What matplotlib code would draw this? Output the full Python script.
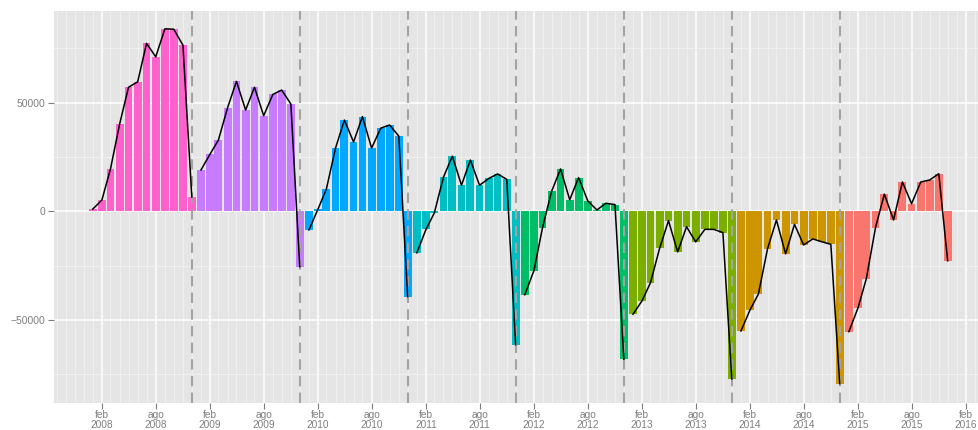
import matplotlib
matplotlib.use("Agg")
import matplotlib.pyplot as plt
import numpy as np
import pandas as pd

# monthly values per year (Jan..Dec)
years = [2008, 2009, 2010, 2011, 2012, 2013, 2014, 2015]
v2008 = [1000, 5200, 19500, 40200, 57100, 59600, 77300, 71100, 84000, 83800, 76500, 6600]
v2009 = [19000, 26400, 32800, 47700, 59800, 46600, 57100, 44000, 53800, 55800, 49400, -25500]
v2010 = [-8600, 1100, 10200, 29100, 42000, 31900, 43600, 29100, 38300, 39700, 34600, -39300]
v2011 = [-19100, -8300, -800, 15700, 25400, 12000, 23600, 12000, 15100, 17200, 14700, -61400]
v2012 = [-38400, -27300, -7500, 9300, 19500, 5300, 15500, 4800, 600, 3700, 3100, -68100]
v2013 = [-47400, -41100, -32900, -17000, -4300, -18700, -7100, -14100, -8300, -8300, -9800, -77200]
v2014 = [-55100, -45300, -38100, -17200, -4000, -19600, -6000, -15500, -12700, -14000, -15200, -79300]
v2015 = [-55400, -44400, -31000, -7500, 7900, -4000, 13500, 3500, 13500, 14400, 17300, -22800]
values = [v2008, v2009, v2010, v2011, v2012, v2013, v2014, v2015]

colors = ['#FF61CC', '#C77CFF', '#00A9FF', '#00BFC4',
          '#00BE67', '#7CAE00', '#CD9600', '#F8766D']

month_abbr = ['ene', 'feb', 'mar', 'abr', 'may', 'jun',
              'jul', 'ago', 'sep', 'oct', 'nov', 'dic']

grey_txt = '#7F7F7F'

fig = plt.figure(figsize=(9.79, 4.30), dpi=100)
ax = fig.add_axes([54 / 979, (430 - 402.7) / 430, 925 / 979, (402.7 - 11) / 430])
ax.set_facecolor('#E5E5E5')
for s in ax.spines.values():
    s.set_visible(False)

# bars and line per year
for yr, vals, col in zip(years, values, colors):
    dates = pd.date_range(f'{yr}-01-01', periods=12, freq='MS')
    ax.bar(dates, vals, width=26.5, color=col, zorder=2, linewidth=0)
    ax.plot(dates, vals, color='black', lw=1.1, zorder=4)

# year separators
for yr in years[:-1]:
    ax.axvline(pd.Timestamp(f'{yr}-12-01'), color='#A3A3A3', lw=1.5,
               ls=(0, (5, 3)), zorder=3)

ax.set_xlim(pd.Timestamp('2007-08-23'), pd.Timestamp('2016-03-16'))
ax.set_ylim(-88100, 92200)

# x ticks
major = pd.date_range('2008-02-01', '2016-02-01', freq='6MS')
ax.set_xticks(major)
ax.set_xticklabels([f'{month_abbr[d.month - 1]}\n{d.year}' for d in major],
                   fontsize=7.3, color=grey_txt, family='Liberation Sans',
                   linespacing=0.95)
minor = pd.date_range('2007-09-01', '2016-03-01', freq='MS')
ax.set_xticks([d for d in minor if d not in set(major)], minor=True)

ax.set_yticks([-50000, 0, 50000])
ax.set_yticklabels(['\u221250000', '0', '50000'], fontsize=7.5,
                   color=grey_txt, family='Liberation Sans')
ax.set_yticks([-75000, -25000, 25000, 75000], minor=True)

ax.tick_params(axis='both', which='major', length=4, width=0.8,
               color=grey_txt, pad=2.5)
ax.tick_params(axis='x', which='major', pad=1.5)
ax.tick_params(axis='both', which='minor', length=0)

ax.grid(which='major', color='white', lw=1.1)
ax.grid(which='minor', color='#F2F2F2', lw=0.6)
ax.set_axisbelow(True)

fig.savefig('out.png', dpi=100)
